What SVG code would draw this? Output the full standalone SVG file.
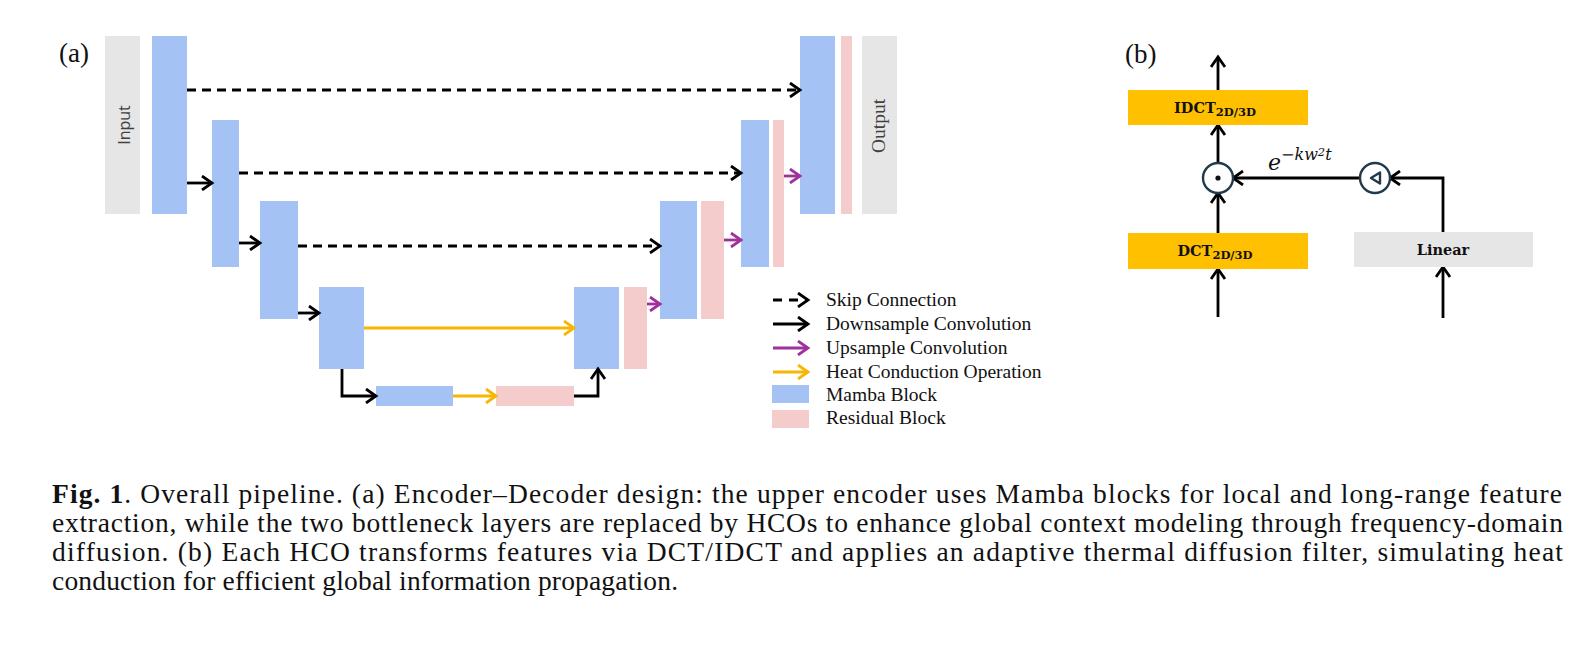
<svg xmlns="http://www.w3.org/2000/svg" width="1591" height="650" viewBox="0 0 1591 650">
<defs>
<marker id="ah-k" markerUnits="userSpaceOnUse" markerWidth="16" markerHeight="16" viewBox="0 0 16 16" refX="13" refY="8" orient="auto"><path d="M3,1 L13,8 L3,15" fill="none" stroke="#000" stroke-width="2.8"/></marker>
<marker id="ah-p" markerUnits="userSpaceOnUse" markerWidth="16" markerHeight="16" viewBox="0 0 16 16" refX="13" refY="8" orient="auto"><path d="M3,1 L13,8 L3,15" fill="none" stroke="#a0309c" stroke-width="2.8"/></marker>
<marker id="ah-y" markerUnits="userSpaceOnUse" markerWidth="16" markerHeight="16" viewBox="0 0 16 16" refX="13" refY="8" orient="auto"><path d="M3,1 L13,8 L3,15" fill="none" stroke="#f7b600" stroke-width="2.8"/></marker>
</defs>
<style>
.mamba{fill:#a4c2f4}
.res{fill:#f4cccc}
.gray{fill:#e7e6e6}
.orange{fill:#ffc000}
.skip{stroke:#000;stroke-width:2.9;stroke-dasharray:9 6;fill:none;marker-end:url(#ah-k)}
.down{stroke:#000;stroke-width:2.8;fill:none;marker-end:url(#ah-k)}
.up{stroke:#a0309c;stroke-width:2.8;fill:none;marker-end:url(#ah-p)}
.heat{stroke:#f7b600;stroke-width:2.8;fill:none;marker-end:url(#ah-y)}
.lg{font-family:"Liberation Serif","Times New Roman",serif;font-size:19.5px;fill:#111}
.lbl{font-family:"Liberation Serif","Times New Roman",serif;font-size:27px;fill:#111}
.cap{font-family:"Liberation Serif","Times New Roman",serif;font-size:27.5px;fill:#111}
.bx{font-family:"DejaVu Serif",serif;font-weight:bold;font-size:14.5px;fill:#111}
.sub{font-size:11.5px}
.circ{fill:#fff;stroke:#203a4c;stroke-width:2.4}
</style>
<rect width="1591" height="650" fill="#fff"/>

<!-- panel (a) -->
<text class="lbl" x="59" y="62">(a)</text>
<g id="input"><rect class="gray" x="105" y="36" width="35" height="178"/><text x="130" y="125" transform="rotate(-90 130 125)" text-anchor="middle" font-family="Open Sans, Noto Sans, sans-serif" font-size="16" fill="#404040">Input</text></g>
<g id="enc1"><rect class="mamba" x="152" y="36" width="35" height="178"/></g>
<g id="enc2"><rect class="mamba" x="212" y="120" width="27" height="147"/></g>
<g id="enc3"><rect class="mamba" x="260" y="201" width="38" height="118"/></g>
<g id="enc4"><rect class="mamba" x="319" y="287" width="45" height="82"/></g>
<g id="bott-mamba"><rect class="mamba" x="376" y="386" width="77" height="20"/></g>
<g id="bott-res"><rect class="res" x="496" y="386" width="78" height="20"/></g>
<g id="dec4"><rect class="mamba" x="574" y="287" width="45" height="82"/><rect class="res" x="624" y="287" width="23" height="82"/></g>
<g id="dec3"><rect class="mamba" x="660" y="201" width="37" height="118"/><rect class="res" x="701" y="201" width="23" height="118"/></g>
<g id="dec2"><rect class="mamba" x="741" y="120" width="28" height="147"/><rect class="res" x="773" y="120" width="11" height="147"/></g>
<g id="dec1"><rect class="mamba" x="800" y="36" width="35" height="178"/><rect class="res" x="841" y="36" width="11" height="178"/></g>
<g id="output"><rect class="gray" x="862" y="36" width="35" height="178"/><text x="885" y="126" transform="rotate(-90 885 126)" text-anchor="middle" font-family="Liberation Serif, serif" font-size="19.5" fill="#404040">Output</text></g>

<g id="connectors">
<line class="skip" x1="187" y1="90" x2="800" y2="90"/>
<line class="skip" x1="239" y1="173" x2="741" y2="173"/>
<line class="skip" x1="298" y1="246" x2="660" y2="246"/>
<line class="down" x1="187" y1="183" x2="212" y2="183"/>
<line class="down" x1="239" y1="243" x2="260" y2="243"/>
<line class="down" x1="298" y1="313" x2="319" y2="313"/>
<path class="down" d="M342,369 V396 H376"/>
<path class="down" d="M574,396 H598 V369"/>
<line class="heat" x1="364" y1="328" x2="574" y2="328"/>
<line class="heat" x1="453" y1="396" x2="496" y2="396"/>
<line class="up" x1="647" y1="304" x2="660" y2="304"/>
<line class="up" x1="724" y1="240" x2="741" y2="240"/>
<line class="up" x1="784" y1="176" x2="800" y2="176"/>

<line class="down" x1="1218" y1="90" x2="1218" y2="57"/>
<line class="down" x1="1218" y1="163" x2="1218" y2="125"/>
<line class="down" x1="1218" y1="233" x2="1218" y2="193"/>
<line class="down" x1="1218" y1="317" x2="1218" y2="269"/>
<line class="down" x1="1443" y1="318" x2="1443" y2="267"/>
<path class="down" d="M1443,232 V178 H1390"/>
<line class="down" x1="1360" y1="178" x2="1233" y2="178"/>
</g>

<g id="legend">
<line class="skip" x1="773" y1="300" x2="808" y2="300" style="stroke-dasharray:9 7"/>
<line class="down" x1="773" y1="324" x2="808" y2="324"/>
<line class="up" x1="773" y1="348" x2="808" y2="348"/>
<line class="heat" x1="773" y1="372" x2="808" y2="372"/>
<rect class="mamba" x="772" y="385" width="37" height="18"/>
<rect class="res" x="772" y="410" width="37" height="18"/>
<text class="lg" x="826" y="306">Skip Connection</text>
<text class="lg" x="826" y="330">Downsample Convolution</text>
<text class="lg" x="826" y="354">Upsample Convolution</text>
<text class="lg" x="826" y="378">Heat Conduction Operation</text>
<text class="lg" x="826" y="401">Mamba Block</text>
<text class="lg" x="826" y="424">Residual Block</text>
</g>

<!-- panel (b) -->
<text class="lbl" x="1125" y="63">(b)</text>
<g id="idct"><rect class="orange" x="1128" y="90" width="180" height="35"/><text class="bx" x="1215" y="113" text-anchor="middle">IDCT<tspan class="sub" dy="3">2D/3D</tspan></text></g>
<g id="dct"><rect class="orange" x="1128" y="233" width="180" height="36"/><text class="bx" x="1215" y="256" text-anchor="middle">DCT<tspan class="sub" dy="3">2D/3D</tspan></text></g>
<g id="linear"><rect class="gray" x="1354" y="232" width="179" height="35"/><text class="bx" x="1443" y="255" text-anchor="middle" font-size="15.5">Linear</text></g>
<g id="mult"><circle class="circ" cx="1218" cy="178" r="15"/><circle cx="1218" cy="178" r="2.6" fill="#111"/></g>
<g id="act"><circle class="circ" cx="1375" cy="178" r="15"/><path d="M1371,178 L1380,172.5 L1380,183.5 Z" fill="none" stroke="#203a4c" stroke-width="2.4" stroke-linejoin="round"/></g>
<text x="1268" y="170" font-family="DejaVu Serif, serif" font-style="italic" font-size="22" fill="#111">e<tspan font-size="16" dy="-10">−kw</tspan><tspan font-size="11.5" dy="-4">2</tspan><tspan font-size="16" dy="4">t</tspan></text>

<!-- caption -->
<g id="caption">
<text class="cap" x="52" y="503" textLength="1510" lengthAdjust="spacing"><tspan font-weight="bold">Fig. 1</tspan>. Overall pipeline. (a) Encoder–Decoder design: the upper encoder uses Mamba blocks for local and long-range feature</text>
<text class="cap" x="52" y="532" textLength="1511" lengthAdjust="spacing">extraction, while the two bottleneck layers are replaced by HCOs to enhance global context modeling through frequency-domain</text>
<text class="cap" x="52" y="561" textLength="1511" lengthAdjust="spacing">diffusion. (b) Each HCO transforms features via DCT/IDCT and applies an adaptive thermal diffusion filter, simulating heat</text>
<text class="cap" x="52" y="590" textLength="626" lengthAdjust="spacing">conduction for efficient global information propagation.</text>
</g>
</svg>
